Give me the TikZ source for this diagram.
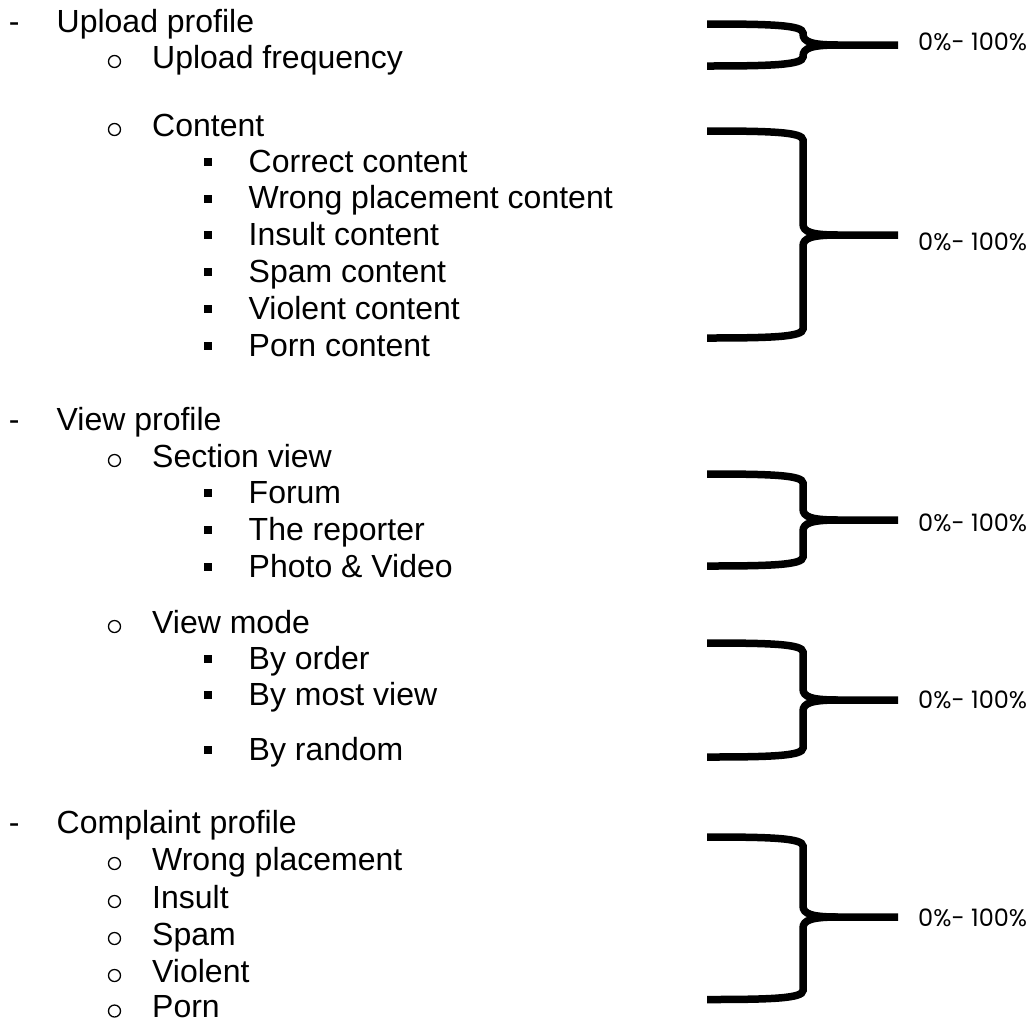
\documentclass[tikz,border=0pt]{standalone}
\usepackage{fontspec}
\setmainfont{Liberation Sans}
\newfontfamily\pctfont{Poppins}
\tikzset{
  item/.style={anchor=base west, inner sep=0pt, font=\fontsize{32}{38}\selectfont},
  ring/.style={draw, line width=1.3pt},
  sqbullet/.style={fill=black},
  bracestroke/.style={draw, line width=7.5pt, line cap=butt},
  pct/.style={anchor=west, inner sep=0pt, font=\pctfont\fontsize{24}{29}\selectfont}
}
\newcommand\lone[3]{\node[item] (#1d) at (8.6,#2) {-}; \node[item] (#1) at (56.5,#2) {#3};}
\newcommand\ltwo[3]{\draw[ring] (114.5,#2-6.5) circle[radius=6]; \node[item] (#1) at (152,#2) {#3};}
\newcommand\lthree[3]{\fill[sqbullet] (204.3,#2-14.3) rectangle (212.3,#2-6.3); \node[item] (#1) at (248.5,#2) {#3};}
% #1 name, #2 top, #3 middle, #4 bottom, #5 label centre
\newcommand\drawbrace[5]{%
  \coordinate (#1tip) at (898,#3);
  \node[pct] (#1lab) at (918,#5) {0\%- 100\%};
  \draw[bracestroke] (707,#2) .. controls (770,#2) and (803,#2+1) .. (803,#2+9)
     -- (803,#3-11) .. controls (803,#3-3) and (812,#3) .. (838,#3) -- (#1tip);
  \draw[bracestroke] (707,#4) .. controls (770,#4) and (803,#4-1) .. (803,#4-9)
     -- (803,#3+11) .. controls (803,#3+3) and (812,#3) .. (838,#3);
}
\begin{document}
\begin{tikzpicture}[x=1pt,y=-1pt]
\useasboundingbox (0,0) rectangle (1032,1021);
% Upload profile
\lone{up}{32}{Upload profile}
\ltwo{uf}{68}{Upload frequency}
\ltwo{ct}{136}{Content}
\lthree{cc}{172}{Correct content}
\lthree{wc}{208.8}{Wrong placement content}
\lthree{ic}{245.6}{Insult content}
\lthree{sc}{282.4}{Spam content}
\lthree{vc}{319.2}{Violent content}
\lthree{pc}{356}{Porn content}
% View profile
\lone{vp}{430}{View profile}
\ltwo{sv}{467}{Section view}
\lthree{fo}{503}{Forum}
\lthree{tr}{540}{The reporter}
\lthree{pv}{577}{Photo \& Video}
\ltwo{vm}{633}{View mode}
\lthree{bo}{669}{By order}
\lthree{bm}{705}{By most view}
\lthree{br}{760}{By random}
% Complaint profile
\lone{cp}{833}{Complaint profile}
\ltwo{wp}{870}{Wrong placement}
\ltwo{in}{908}{Insult}
\ltwo{sp}{945}{Spam}
\ltwo{vi}{982}{Violent}
\ltwo{po}{1017.5}{Porn}
% braces
\drawbrace{ba}{24}{45}{66}{41.7}
\drawbrace{bb}{131}{235}{338}{241.7}
\drawbrace{bc}{474}{520}{566}{523.3}
\drawbrace{bd}{643}{700}{757}{700}
\drawbrace{be}{837}{917}{999.5}{918.3}
\end{tikzpicture}
\end{document}
